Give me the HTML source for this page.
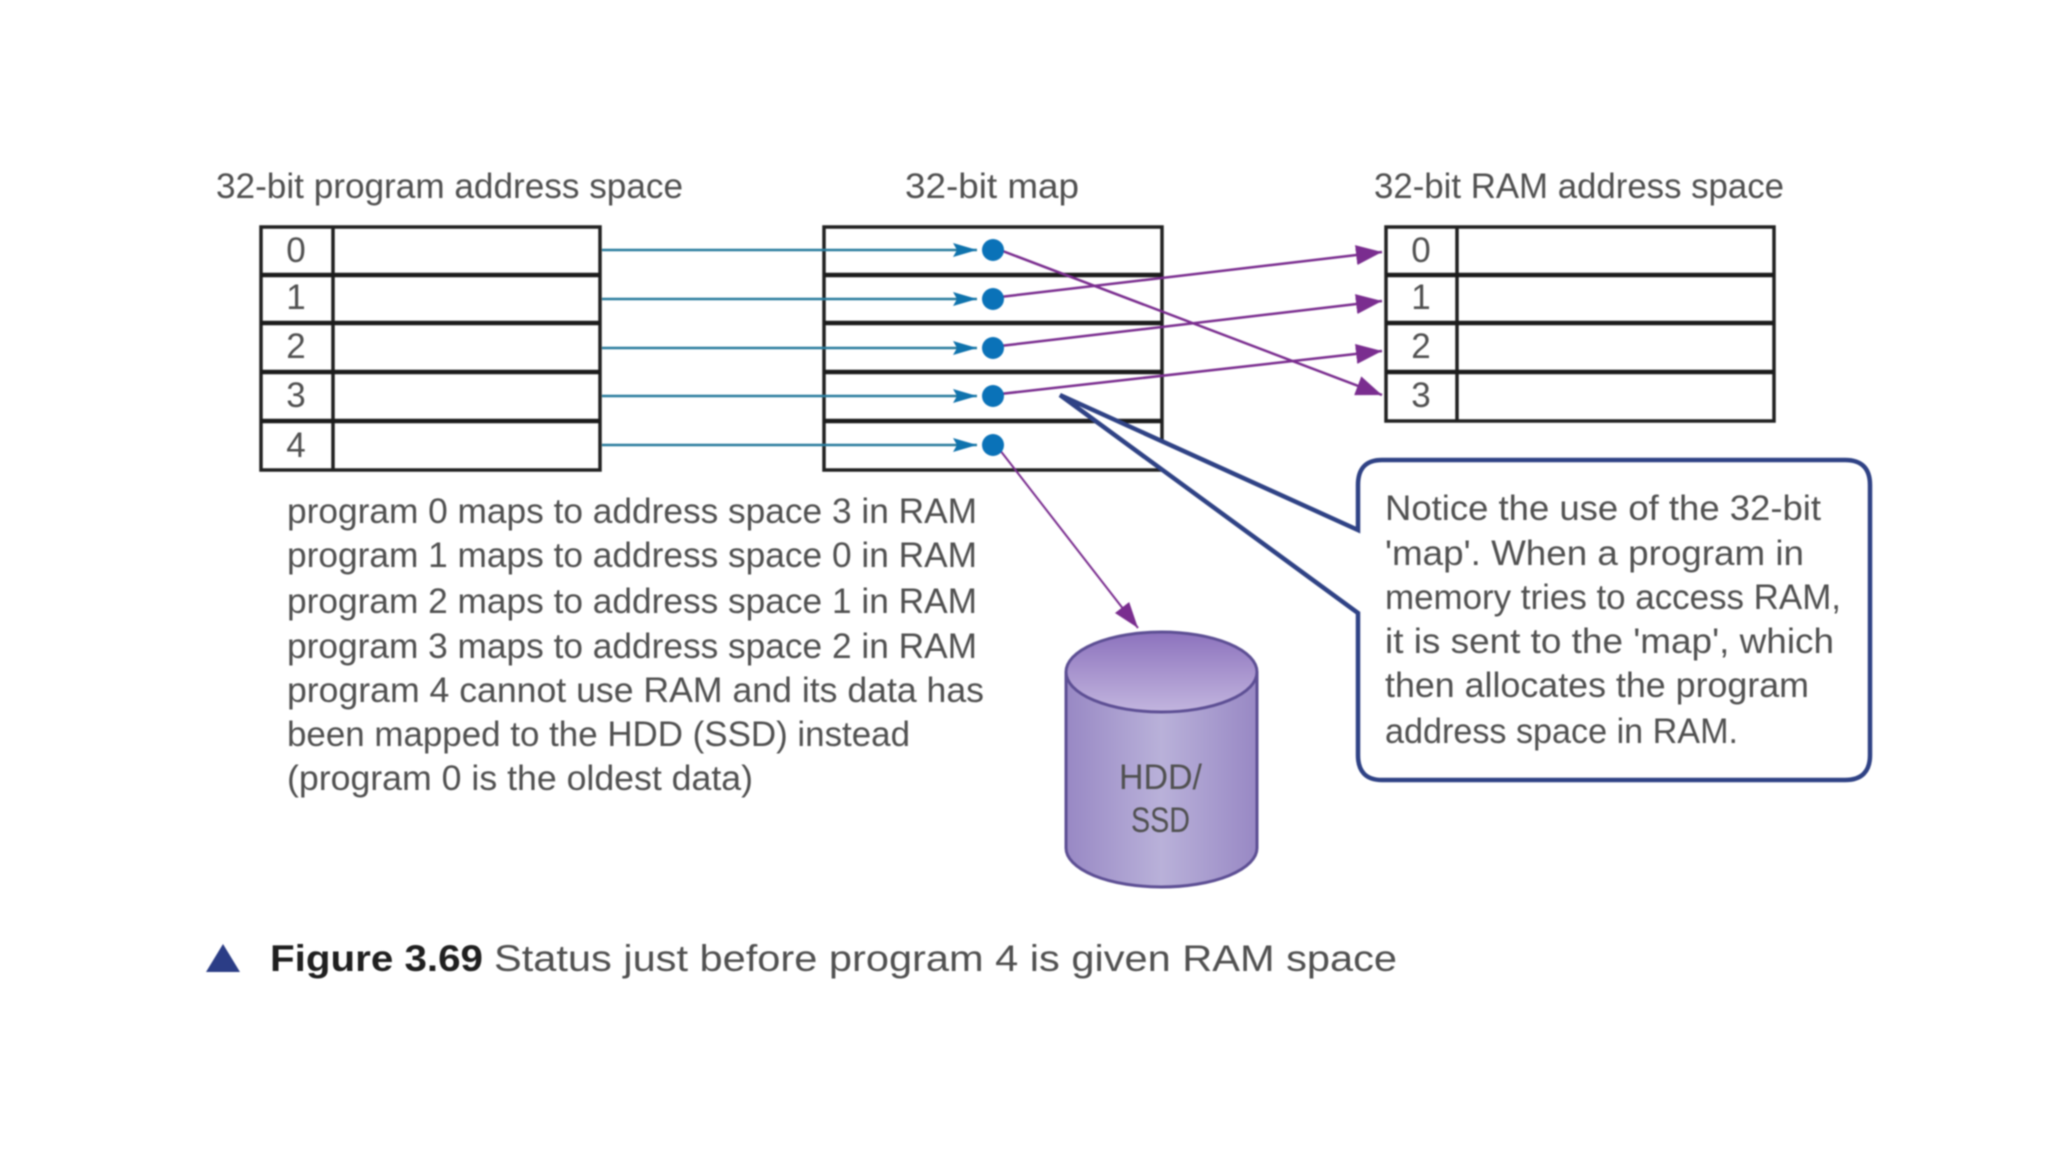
<!DOCTYPE html>
<html>
<head>
<meta charset="utf-8">
<style>
html,body{margin:0;padding:0;background:#fff;width:2048px;height:1152px;overflow:hidden}
svg{display:block;filter:blur(.7px)}
text{font-family:"Liberation Sans",sans-serif;fill:#505050;font-size:35px}
.b{fill:#1f1f1f;stroke:none}
</style>
</head>
<body>
<svg width="2048" height="1152" viewBox="0 0 2048 1152" xmlns="http://www.w3.org/2000/svg">
<defs>
<marker id="pa" markerUnits="userSpaceOnUse" markerWidth="26" markerHeight="22" viewBox="0 0 26 22" refX="26" refY="11" orient="auto"><path d="M0,1L26,11L0,21Z" fill="#7a2d8f"/></marker>
<marker id="pb" markerUnits="userSpaceOnUse" markerWidth="24" markerHeight="16" viewBox="0 0 24 16" refX="24" refY="8" orient="auto"><path d="M0,1L24,8L0,15L4,8Z" fill="#0f73ad"/></marker>
<marker id="pc" markerUnits="userSpaceOnUse" markerWidth="26" markerHeight="20" viewBox="0 0 26 20" refX="26" refY="10" orient="auto"><path d="M0,1L26,10L0,19Z" fill="#7a2d8f"/></marker>
<linearGradient id="body" x1="0" y1="0" x2="1" y2="0"><stop offset="0" stop-color="#9888c4"/><stop offset=".5" stop-color="#b9b1d9"/><stop offset="1" stop-color="#9888c4"/></linearGradient>
<linearGradient id="top" x1="0" y1="0" x2="0" y2="1"><stop offset="0" stop-color="#8c72bd"/><stop offset="1" stop-color="#c2b5de"/></linearGradient>
</defs>

<text x="216" y="198" textLength="467" lengthAdjust="spacingAndGlyphs">32-bit program address space</text>
<text x="905" y="198" textLength="174" lengthAdjust="spacingAndGlyphs">32-bit map</text>
<text x="1374" y="198" textLength="410" lengthAdjust="spacingAndGlyphs">32-bit RAM address space</text>

<g fill="none" stroke="#222" stroke-width="3.5">
<rect x="261" y="227" width="339" height="243"/>
<path d="M333,227V470"/>
<rect x="824" y="227" width="338" height="243"/>
<rect x="1386" y="227" width="388" height="194"/>
<path d="M1457,227V421"/>
</g>
<g fill="none" stroke="#1c1c1c" stroke-width="4.5">
<path d="M261,275H600M261,323H600M261,372H600M261,421H600"/>
<path d="M824,275H1162M824,323H1162M824,372H1162M824,421H1162"/>
<path d="M1386,275H1774M1386,323H1774M1386,372H1774"/>
</g>

<g text-anchor="middle">
<text x="296" y="262">0</text><text x="296" y="309">1</text><text x="296" y="358">2</text><text x="296" y="407">3</text><text x="296" y="457">4</text>
<text x="1421" y="262">0</text><text x="1421" y="309">1</text><text x="1421" y="358">2</text><text x="1421" y="407">3</text>
</g>

<g stroke="#2b7d9e" stroke-width="2.5" fill="none">
<line x1="602" y1="250" x2="977" y2="250" marker-end="url(#pb)"/>
<line x1="602" y1="299" x2="977" y2="299" marker-end="url(#pb)"/>
<line x1="602" y1="348" x2="977" y2="348" marker-end="url(#pb)"/>
<line x1="602" y1="396" x2="977" y2="396" marker-end="url(#pb)"/>
<line x1="602" y1="445" x2="977" y2="445" marker-end="url(#pb)"/>
</g>

<g stroke="#7a2d8f" stroke-width="2.5" fill="none">
<line x1="1000" y1="250" x2="1382" y2="395" marker-end="url(#pa)"/>
<line x1="1000" y1="297" x2="1382" y2="252" marker-end="url(#pa)"/>
<line x1="1000" y1="346" x2="1382" y2="301" marker-end="url(#pa)"/>
<line x1="1000" y1="394" x2="1382" y2="351" marker-end="url(#pa)"/>
<line x1="996" y1="445" x2="1138" y2="628" stroke-width="2" marker-end="url(#pc)"/>
</g>

<g fill="#0a72b8">
<circle cx="993" cy="250" r="11"/><circle cx="993" cy="299" r="11"/><circle cx="993" cy="348" r="11"/><circle cx="993" cy="396" r="11"/><circle cx="993" cy="445" r="11"/>
</g>

<path d="M1382,460H1845Q1870,460 1870,485V755Q1870,780 1845,780H1382Q1358,780 1358,755V613L1060,395L1358,530V485Q1358,460 1382,460Z" fill="#fff" stroke="#2f4285" stroke-width="4.5" stroke-linejoin="miter"/>

<text x="1385" y="520" textLength="436" lengthAdjust="spacingAndGlyphs">Notice the use of the 32-bit</text>
<text x="1385" y="565" textLength="419" lengthAdjust="spacingAndGlyphs">'map'. When a program in</text>
<text x="1385" y="609" textLength="456" lengthAdjust="spacingAndGlyphs">memory tries to access RAM,</text>
<text x="1385" y="653" textLength="449" lengthAdjust="spacingAndGlyphs">it is sent to the 'map', which</text>
<text x="1385" y="697" textLength="424" lengthAdjust="spacingAndGlyphs">then allocates the program</text>
<text x="1385" y="743" textLength="353" lengthAdjust="spacingAndGlyphs">address space in RAM.</text>

<path d="M1066,673V848A95.5,39 0 0 0 1257,848V673Z" fill="url(#body)" stroke="#5d4f94" stroke-width="3"/>
<ellipse cx="1161.5" cy="672" rx="95.5" ry="40" fill="url(#top)" stroke="#5d4f94" stroke-width="3"/>
<text x="1119" y="789" textLength="83" lengthAdjust="spacingAndGlyphs">HDD/</text>
<text x="1131" y="832" textLength="59" lengthAdjust="spacingAndGlyphs">SSD</text>

<text x="287" y="523" textLength="690" lengthAdjust="spacingAndGlyphs">program 0 maps to address space 3 in RAM</text>
<text x="287" y="567" textLength="690" lengthAdjust="spacingAndGlyphs">program 1 maps to address space 0 in RAM</text>
<text x="287" y="613" textLength="690" lengthAdjust="spacingAndGlyphs">program 2 maps to address space 1 in RAM</text>
<text x="287" y="658" textLength="690" lengthAdjust="spacingAndGlyphs">program 3 maps to address space 2 in RAM</text>
<text x="287" y="702" textLength="697" lengthAdjust="spacingAndGlyphs">program 4 cannot use RAM and its data has</text>
<text x="287" y="746" textLength="623" lengthAdjust="spacingAndGlyphs">been mapped to the HDD (SSD) instead</text>
<text x="287" y="790" textLength="466" lengthAdjust="spacingAndGlyphs">(program 0 is the oldest data)</text>

<path d="M223,944L240,972H206Z" fill="#2b3d86"/>
<text x="270" y="971" class="b" style="font-weight:bold;font-size:37px" textLength="213" lengthAdjust="spacingAndGlyphs">Figure 3.69</text>
<text x="494" y="971" style="font-size:37px" textLength="903" lengthAdjust="spacingAndGlyphs">Status just before program 4 is given RAM space</text>
</svg>
</body>
</html>
